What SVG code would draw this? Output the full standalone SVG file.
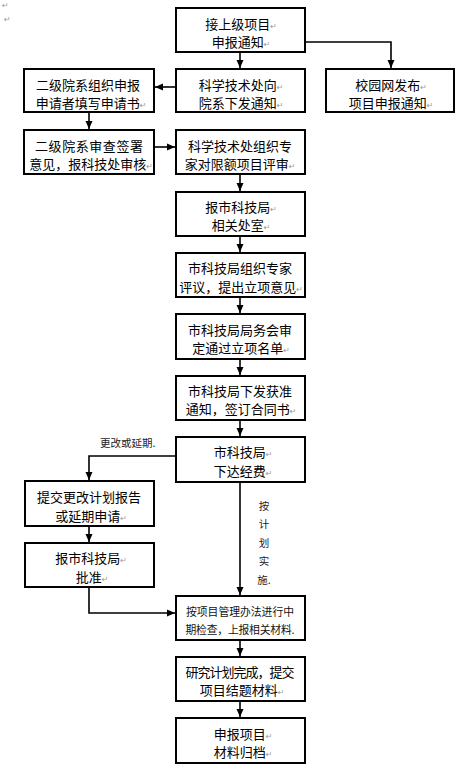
<svg xmlns="http://www.w3.org/2000/svg" width="468" height="771" viewBox="0 0 468 771">
<defs>
<style>
.box{fill:#fff;stroke:#000;stroke-width:2}
.t{font-family:"Noto Sans CJK SC","Noto Sans",sans-serif;font-size:13px;fill:#000;text-anchor:middle}
.t2{font-family:"Noto Sans CJK SC","Noto Sans",sans-serif;font-size:10.8px;fill:#111;text-anchor:middle}
.lab{font-family:"Noto Sans CJK SC","Noto Sans",sans-serif;font-size:10.5px;fill:#222}
.pm{font-family:"DejaVu Sans",sans-serif;font-size:8px;fill:#999}
.c{fill:none;stroke:#000;stroke-width:1.6}
</style>
<marker id="ah" markerUnits="userSpaceOnUse" markerWidth="8" markerHeight="8" refX="8" refY="4" orient="auto">
<path d="M0,0.5 L8,4 L0,7.5 z" fill="#000"/>
</marker>
</defs>
<rect width="468" height="771" fill="#fff"/>
<text x="2" y="8" class="pm">↵</text>
<text x="4" y="22" class="pm">↵</text>

<g id="connectors">
<path class="c" d="M240,52 V68" marker-end="url(#ah)"/>
<path class="c" d="M305,42 H391 V68" marker-end="url(#ah)"/>
<path class="c" d="M176,87 H155" marker-end="url(#ah)"/>
<path class="c" d="M89,112 V129" marker-end="url(#ah)"/>
<path class="c" d="M154,147 H175" marker-end="url(#ah)"/>
<path class="c" d="M240,174 V191" marker-end="url(#ah)"/>
<path class="c" d="M240,236 V252" marker-end="url(#ah)"/>
<path class="c" d="M240,297 V313" marker-end="url(#ah)"/>
<path class="c" d="M240,359 V375" marker-end="url(#ah)"/>
<path class="c" d="M240,420 V436" marker-end="url(#ah)"/>
<path class="c" d="M176,456 H89 V480" marker-end="url(#ah)"/>
<path class="c" d="M89,526 V542" marker-end="url(#ah)"/>
<path class="c" d="M89,587 V613 H175" marker-end="url(#ah)"/>
<path class="c" d="M240,482 V595" marker-end="url(#ah)"/>
<path class="c" d="M240,640 V656" marker-end="url(#ah)"/>
<path class="c" d="M240,701 V717" marker-end="url(#ah)"/>
<text x="100" y="447" class="lab">更改或延期.</text>
<text x="264" y="510" class="lab" text-anchor="middle">按</text>
<text x="264" y="528" class="lab" text-anchor="middle">计</text>
<text x="264" y="547" class="lab" text-anchor="middle">划</text>
<text x="264" y="565" class="lab" text-anchor="middle">实</text>
<text x="264" y="584" class="lab" text-anchor="middle">施.</text>
</g>

<g id="n1"><rect class="box" x="176" y="8" width="129" height="44"/>
<text x="241" y="29" class="t">接上级项目<tspan class="pm">↵</tspan></text>
<text x="241" y="47" class="t">申报通知<tspan class="pm">↵</tspan></text></g>

<g id="n2"><rect class="box" x="176" y="69" width="129" height="43"/>
<text x="241" y="90" class="t">科学技术处向<tspan class="pm">↵</tspan></text>
<text x="241" y="108" class="t">院系下发通知<tspan class="pm">↵</tspan></text></g>

<g id="n3"><rect class="box" x="326" y="69" width="128" height="43"/>
<text x="391" y="90" class="t">校园网发布<tspan class="pm">↵</tspan></text>
<text x="391" y="108" class="t">项目申报通知<tspan class="pm">↵</tspan></text></g>

<g id="n4"><rect class="box" x="24" y="69" width="130" height="43"/>
<text x="88" y="90" class="t">二级院系组织申报</text>
<text x="91" y="108" class="t">申请者填写申请书<tspan class="pm">↵</tspan></text></g>

<g id="n5"><rect class="box" x="24" y="130" width="130" height="44"/>
<text x="89" y="151" class="t" textLength="108" lengthAdjust="spacing">二级院系审查签署</text>
<text x="91" y="169" class="t">意见，报科技处审核<tspan class="pm">↵</tspan></text></g>

<g id="n6"><rect class="box" x="176" y="130" width="129" height="44"/>
<text x="240" y="151" class="t">科学技术处组织专</text>
<text x="240" y="169" class="t">家对限额项目评审<tspan class="pm">↵</tspan></text></g>

<g id="n7"><rect class="box" x="176" y="192" width="129" height="44"/>
<text x="241" y="212" class="t">报市科技局<tspan class="pm">↵</tspan></text>
<text x="241" y="230" class="t">相关处室<tspan class="pm">↵</tspan></text></g>

<g id="n8"><rect class="box" x="176" y="253" width="129" height="44"/>
<text x="240" y="273" class="t">市科技局组织专家</text>
<text x="241" y="292" class="t">评议，提出立项意见<tspan class="pm">↵</tspan></text></g>

<g id="n9"><rect class="box" x="176" y="314" width="129" height="45"/>
<text x="240" y="335" class="t">市科技局局务会审</text>
<text x="241" y="353" class="t">定通过立项名单<tspan class="pm">↵</tspan></text></g>

<g id="n10"><rect class="box" x="176" y="376" width="129" height="44"/>
<text x="240" y="396" class="t">市科技局下发获准</text>
<text x="241" y="414" class="t">通知，签订合同书<tspan class="pm">↵</tspan></text></g>

<g id="n11"><rect class="box" x="176" y="437" width="129" height="45"/>
<text x="243" y="457" class="t">市科技局<tspan class="pm">↵</tspan></text>
<text x="243" y="476" class="t">下达经费<tspan class="pm">↵</tspan></text></g>

<g id="n12"><rect class="box" x="25" y="481" width="129" height="45"/>
<text x="89" y="502" class="t">提交更改计划报告</text>
<text x="91" y="521" class="t">或延期申请<tspan class="pm">↵</tspan></text></g>

<g id="n13"><rect class="box" x="25" y="543" width="129" height="44"/>
<text x="91" y="563" class="t">报市科技局<tspan class="pm">↵</tspan></text>
<text x="92" y="582" class="t">批准<tspan class="pm">↵</tspan></text></g>

<g id="n14"><rect class="box" x="176" y="596" width="129" height="44"/>
<text x="240" y="616" class="t2" textLength="108" lengthAdjust="spacing">按项目管理办法进行中</text>
<text x="240" y="634" class="t2" textLength="109" lengthAdjust="spacing">期检查，上报相关材料.</text></g>

<g id="n15"><rect class="box" x="176" y="657" width="129" height="44"/>
<text x="240" y="677" class="t" textLength="109" lengthAdjust="spacing">研究计划完成，提交</text>
<text x="242" y="695" class="t">项目结题材料<tspan class="pm">↵</tspan></text></g>

<g id="n16"><rect class="box" x="176" y="718" width="129" height="45"/>
<text x="243" y="739" class="t">申报项目<tspan class="pm">↵</tspan></text>
<text x="243" y="757" class="t">材料归档<tspan class="pm">↵</tspan></text></g>
</svg>
